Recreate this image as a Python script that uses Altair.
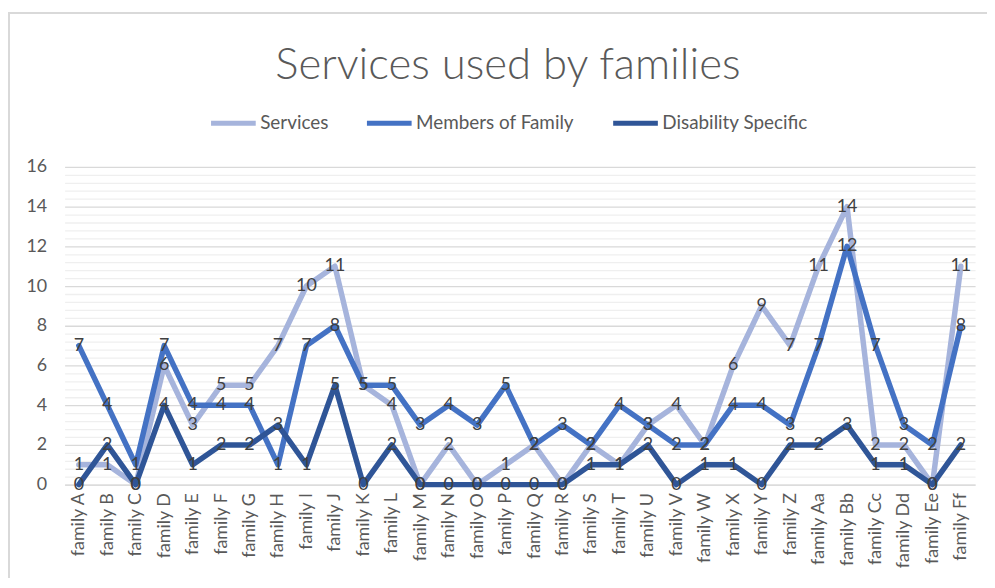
import altair as alt
import pandas as pd

families = ["family A", "family B", "family C", "family D", "family E", "family F",
            "family G", "family H", "family I", "family J", "family K", "family L",
            "family M", "family N", "family O", "family P", "family Q", "family R",
            "family S", "family T", "family U", "family V", "family W", "family X",
            "family Y", "family Z", "family Aa", "family Bb", "family Cc", "family Dd",
            "family Ee", "family Ff"]
services = [1, 1, 0, 6, 3, 5, 5, 7, 10, 11, 5, 4, 0, 2, 0, 1, 2, 0, 2, 1, 3, 4, 2, 6,
            9, 7, 11, 14, 2, 2, 0, 11]
members = [7, 4, 1, 7, 4, 4, 4, 1, 7, 8, 5, 5, 3, 4, 3, 5, 2, 3, 2, 4, 3, 2, 2, 4,
           4, 3, 7, 12, 7, 3, 2, 8]
disability = [0, 2, 0, 4, 1, 2, 2, 3, 1, 5, 0, 2, 0, 0, 0, 0, 0, 0, 1, 1, 2, 0, 1, 1,
              0, 2, 2, 3, 1, 1, 0, 2]
series_names = ["Services", "Members of Family", "Disability Specific"]
series_colors = ["#A6B4DC", "#4472C4", "#2F5597"]

rows = []
for k, (name, vals) in enumerate(zip(series_names, [services, members, disability])):
    for i, (f, v) in enumerate(zip(families, vals)):
        rows.append({"family": f, "series": name, "value": v, "order": k})
df = pd.DataFrame(rows)

FONT = "Lato"
y_vals = [round(i * 0.4, 1) for i in range(41)]

x_enc = alt.X("family:N", sort=families, title=None,
              scale=alt.Scale(type="point", padding=0.5),
              axis=alt.Axis(labelAngle=-90, labelAlign="right", labelBaseline="middle",
                            ticks=False, domainColor="#d9d9d9", labelPadding=8,
                            labelFontSize=18, labelColor="#595959", labelFont=FONT))
y_enc = alt.Y("value:Q", title=None,
              scale=alt.Scale(domain=[0, 16], nice=False),
              axis=alt.Axis(values=y_vals, tickCount=41,
                            labelExpr="abs(datum.value % 2) < 0.001 ? format(datum.value, 'd') : ''",
                            labelOverlap=False,
                            grid=True,
                            gridColor={"condition": {"test": "abs(datum.value % 2) < 0.001", "value": "#d9d9d9"},
                                       "value": "#efefef"},
                            gridWidth=1.3,
                            ticks=False, domain=False, labelPadding=18,
                            labelFontSize=18, labelColor="#595959", labelFont=FONT))

lines = alt.Chart(df).mark_line(strokeWidth=5.5, strokeCap="round", strokeJoin="round").encode(
    x=x_enc,
    y=y_enc,
    color=alt.Color("series:N", sort=series_names,
                    scale=alt.Scale(domain=series_names, range=series_colors),
                    legend=alt.Legend(title=None, orient="none", direction="horizontal",
                                      legendX=145, legendY=-69,
                                      symbolType="stroke", symbolSize=2025,
                                      symbolStrokeWidth=5, labelFontSize=19,
                                      labelFont=FONT, labelColor="#595959",
                                      labelOffset=2, columnPadding=28)),
    order=alt.Order("order:Q"),
)

labels = alt.Chart(df).mark_text(fontSize=18, font=FONT, color="#404040",
                                 align="center", baseline="middle").encode(
    x=alt.X("family:N", sort=families),
    y=alt.Y("value:Q"),
    text=alt.Text("value:Q"),
)

frame_top = alt.Chart(df).mark_rule(color="#d9d9d9", strokeWidth=1.5).encode(
    x=alt.value(-57), x2=alt.value(935), y=alt.value(-155))
frame_left = alt.Chart(df).mark_rule(color="#d9d9d9", strokeWidth=1.5).encode(
    x=alt.value(-56.3), y=alt.value(-155), y2=alt.value(440))

chart = alt.layer(frame_top, frame_left, lines, labels).properties(
    width=917, height=320,
    title=alt.TitleParams("Services used by families", fontSize=44, font=FONT,
                          fontWeight=300, color="#595959", anchor="middle",
                          offset=-76, dx=-12),
    autosize=alt.AutoSizeParams(type="none"),
    padding={"left": 57, "top": 158, "right": 12, "bottom": 92},
).configure_view(stroke=None)

chart.save("out.html", embed_options={"renderer": "svg", "actions": False})
